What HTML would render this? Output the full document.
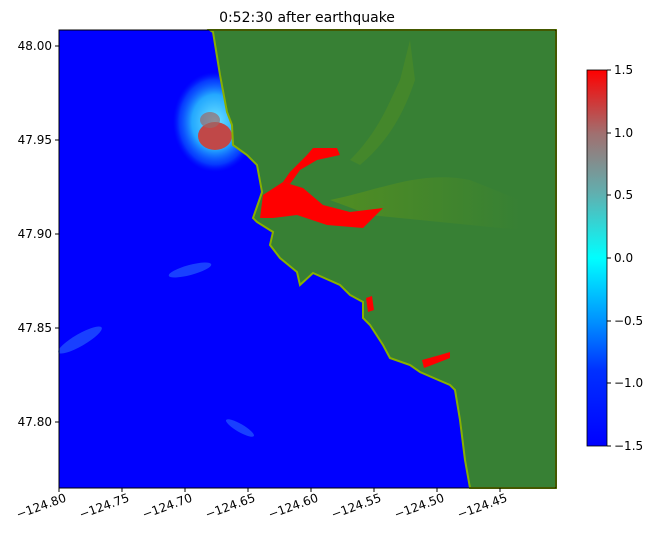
<!DOCTYPE html>
<html><head><style>
body{margin:0;background:#fff;}
svg text{font-family:"DejaVu Sans","Liberation Sans",sans-serif;font-size:12px;fill:#000;}
</style></head><body>
<svg width="658" height="541" viewBox="0 0 658 541" xmlns="http://www.w3.org/2000/svg">
<defs>
<radialGradient id="glow" cx="0.5" cy="0.5" r="0.5">
<stop offset="0" stop-color="#7fffff" stop-opacity="0.9"/>
<stop offset="0.55" stop-color="#30e0ff" stop-opacity="0.75"/>
<stop offset="0.85" stop-color="#1090ff" stop-opacity="0.4"/>
<stop offset="1" stop-color="#0040ff" stop-opacity="0"/>
</radialGradient>
<linearGradient id="cb" x1="0" y1="1" x2="0" y2="0">
<stop offset="0" stop-color="#0000ff"/>
<stop offset="0.2" stop-color="#0030ff"/>
<stop offset="0.33" stop-color="#0090ff"/>
<stop offset="0.5" stop-color="#00ffff"/>
<stop offset="0.67" stop-color="#60b0b0"/>
<stop offset="0.83" stop-color="#a07070"/>
<stop offset="1" stop-color="#ff0000"/>
</linearGradient>
<linearGradient id="shade" x1="0" y1="0" x2="1" y2="0">
<stop offset="0" stop-color="#6a9a10" stop-opacity="0.5"/>
<stop offset="1" stop-color="#6a9a10" stop-opacity="0"/>
</linearGradient>
</defs>
<text x="307" y="22" text-anchor="middle" style="font-size:14px">0:52:30 after earthquake</text>
<rect x="59" y="30" width="497" height="458" fill="#0000ff"/>
<ellipse cx="215" cy="122" rx="42" ry="50" fill="url(#glow)"/>
<ellipse cx="215" cy="136" rx="17" ry="14" fill="#c04848"/>
<ellipse cx="210" cy="120" rx="10" ry="8" fill="#9a6a6a" opacity="0.7"/>
<ellipse cx="80" cy="340" rx="25" ry="6" fill="#2a6aff" opacity="0.6" transform="rotate(-30 80 340)"/>
<ellipse cx="190" cy="270" rx="22" ry="5" fill="#2a6aff" opacity="0.6" transform="rotate(-15 190 270)"/>
<ellipse cx="240" cy="428" rx="16" ry="4" fill="#2a6aff" opacity="0.6" transform="rotate(30 240 428)"/>
<polygon fill="#378034" stroke="#88b000" stroke-width="2" points="210,30 213,32 220,75 227,112 232,125 233,145 247,155 257,165 262,192 260,198 253,218 257,222 273,232 270,245 280,258 297,272 300,285 313,273 340,285 350,295 363,302 363,318 370,325 383,345 390,358 410,365 420,372 443,382 450,385 455,390 460,420 465,460 470,488 556,488 556,30"/>
<path d="M330,200 C380,190 420,170 470,180 L520,200 L520,230 C470,225 420,220 370,215 Z" fill="url(#shade)"/>
<path d="M350,160 C380,130 390,100 400,80 L410,40 L415,80 C405,110 390,140 360,165 Z" fill="#6a9a10" opacity="0.25"/>
<polygon fill="#ff0000" points="263,195 283,182 303,188 323,205 350,212 383,208 363,228 327,225 297,215 273,218 260,218"/>
<polygon fill="#ff0000" points="283,182 290,172 307,155 313,148 337,148 340,155 317,160 300,170 290,184"/>
<polygon fill="#ff0000" points="366,298 372,296 374,310 368,312"/>
<polygon fill="#ff0000" points="422,360 440,355 450,352 450,358 432,365 424,368"/>
<rect x="59" y="30" width="497" height="458" fill="none" stroke="#000" stroke-width="1"/>
<g stroke="#000" stroke-width="1">
<line x1="59" y1="488" x2="59" y2="492"/><line x1="122" y1="488" x2="122" y2="492"/><line x1="185" y1="488" x2="185" y2="492"/><line x1="248" y1="488" x2="248" y2="492"/><line x1="311" y1="488" x2="311" y2="492"/><line x1="374" y1="488" x2="374" y2="492"/><line x1="437" y1="488" x2="437" y2="492"/><line x1="500" y1="488" x2="500" y2="492"/>
<line x1="55" y1="46" x2="59" y2="46"/><line x1="55" y1="140" x2="59" y2="140"/><line x1="55" y1="234" x2="59" y2="234"/><line x1="55" y1="328" x2="59" y2="328"/><line x1="55" y1="422" x2="59" y2="422"/>
</g>
<g text-anchor="end">
<text x="52" y="50">48.00</text><text x="52" y="144">47.95</text><text x="52" y="238">47.90</text><text x="52" y="332">47.85</text><text x="52" y="426">47.80</text>
</g>
<g text-anchor="end">
<text transform="translate(67,501) rotate(-20)">−124.80</text>
<text transform="translate(130,501) rotate(-20)">−124.75</text>
<text transform="translate(193,501) rotate(-20)">−124.70</text>
<text transform="translate(256,501) rotate(-20)">−124.65</text>
<text transform="translate(319,501) rotate(-20)">−124.60</text>
<text transform="translate(382,501) rotate(-20)">−124.55</text>
<text transform="translate(445,501) rotate(-20)">−124.50</text>
<text transform="translate(508,501) rotate(-20)">−124.45</text>
</g>
<rect x="587" y="70" width="20" height="376" fill="url(#cb)" stroke="#000" stroke-width="0.8"/>
<g stroke="#000"><line x1="607" y1="70" x2="611" y2="70"/><line x1="607" y1="133" x2="611" y2="133"/><line x1="607" y1="195" x2="611" y2="195"/><line x1="607" y1="258" x2="611" y2="258"/><line x1="607" y1="321" x2="611" y2="321"/><line x1="607" y1="383" x2="611" y2="383"/><line x1="607" y1="446" x2="611" y2="446"/></g>
<text x="614" y="74">1.5</text><text x="614" y="137">1.0</text><text x="614" y="199">0.5</text><text x="614" y="262">0.0</text><text x="614" y="325">−0.5</text><text x="614" y="387">−1.0</text><text x="614" y="450">−1.5</text>
</svg>
</body></html>
